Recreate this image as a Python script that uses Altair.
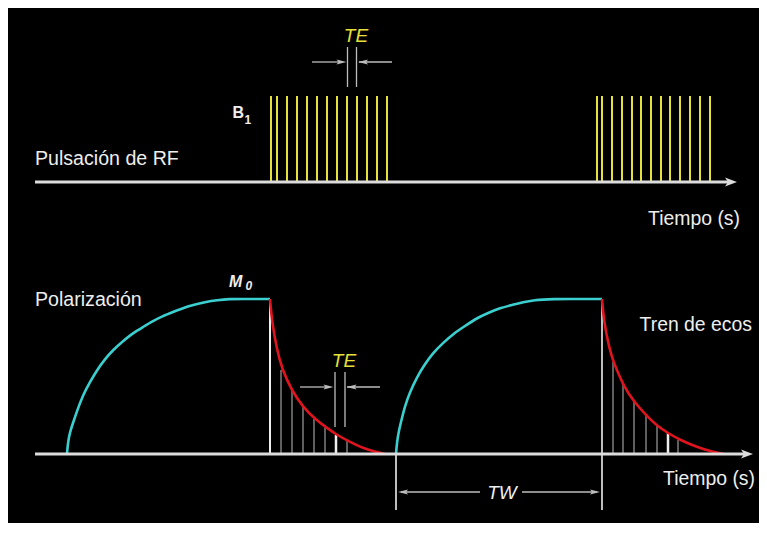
import altair as alt
import pandas as pd

# ---------------- data (time along x, level along y) ----------------
burst1_t = [271, 277, 287, 297, 307, 317, 327, 337, 347, 357, 367, 377, 387]
burst2_t = [597, 602, 612, 622, 632, 641, 651, 661, 670, 680, 690, 700, 710]
pulse_top = 96
rf_axis_level = 182
pol_axis_level = 454

rise1_t = [67, 68, 70, 73, 77, 83, 90, 97, 105, 113, 123, 133, 143, 153, 163, 173, 183,
           193, 205, 217, 230, 240, 270]
rise1_y = [454, 442, 432, 423, 411, 395, 382, 370, 359, 350, 341, 333, 327, 321, 316, 312,
           308, 305, 302, 300, 299, 299, 299]
rise2_t = [396, 397, 399, 402, 405, 410, 417, 425, 433, 443, 453, 465, 477, 488, 500, 512,
           523, 535, 547, 602]
rise2_y = [454, 442, 430, 418, 406, 392, 377, 364, 353, 343, 334, 326, 318, 313, 308, 305,
           302, 300, 299, 299]
decay1_t = [270, 272, 277, 282, 292, 303, 315, 327, 337, 350, 367, 385]
decay1_y = [299, 322, 350, 369, 391, 407, 419, 428, 435, 442, 450, 454]
decay2_t = [602, 604, 609, 613, 623, 634, 646, 657, 668, 680, 697, 713, 724]
decay2_y = [299, 322, 347, 361, 385, 402, 415, 426, 433, 440, 447, 452, 454]
echo1_t = [281, 292, 303, 314, 325, 347]
echo1_y = [370, 391, 407, 419, 428, 441]
echo2_t = [613, 623, 634, 646, 657, 678]
echo2_y = [362, 385, 402, 415, 426, 440]
echo_bold_t = [336, 668]
echo_bold_y = [435, 433]

W, H = 751, 515
xs = alt.Scale(domain=[8, 759], nice=False, zero=False)
ys = alt.Scale(domain=[8, 523], nice=False, zero=False, reverse=True)


def X(f):
    return alt.X(f, type="quantitative", scale=xs, axis=None)


def Y(f):
    return alt.Y(f, type="quantitative", scale=ys, axis=None)


def vrules(ts, y1, y2, color, width, opacity=1.0):
    if not isinstance(y1, list):
        y1 = [y1] * len(ts)
    if not isinstance(y2, list):
        y2 = [y2] * len(ts)
    df = pd.DataFrame({"t": ts, "a": y1, "b": y2})
    return alt.Chart(df).mark_rule(color=color, strokeWidth=width, opacity=opacity).encode(
        x=X("t"), y=Y("a"), y2=alt.Y2("b"))


def hrules(t1, t2, ys_, color, width):
    df = pd.DataFrame({"a": t1, "b": t2, "y": ys_})
    return alt.Chart(df).mark_rule(color=color, strokeWidth=width).encode(
        x=X("a"), x2=alt.X2("b"), y=Y("y"))


def curve(ts, ys_, color, width):
    df = pd.DataFrame({"t": ts, "y": ys_, "i": list(range(len(ts)))})
    return alt.Chart(df).mark_line(color=color, strokeWidth=width,
                                   interpolate="basis").encode(
        x=X("t"), y=Y("y"), order="i:Q")


def heads(ts, ys_, shape, size, color):
    df = pd.DataFrame({"t": ts, "y": ys_})
    return alt.Chart(df).mark_point(shape=shape, size=size, filled=True, color=color,
                                    opacity=1, strokeWidth=0).encode(x=X("t"), y=Y("y"))


FONT = "Liberation Sans, Arial, sans-serif"


def label(texts, ts, ys_, size, color, align="left", style="normal", weight="normal"):
    df = pd.DataFrame({"txt": texts, "t": ts, "y": ys_})
    return alt.Chart(df).mark_text(align=align, baseline="alphabetic", fontSize=size,
                                   color=color, fontStyle=style, fontWeight=weight,
                                   font=FONT).encode(x=X("t"), y=Y("y"), text="txt:N")


AXIS_C = "#dcdcdc"
YEL = "#e6e03a"
CYAN = "#3ccfcf"
RED = "#e0141e"
WHITE = "#eeeeee"
GREY = "#bdbdbd"

ARROW_R = "M-1,-0.75L1,0L-1,0.75L-0.5,0Z"
SMALL_R = "M-1,-0.5L1,0L-1,0.5L-0.6,0Z"
SMALL_L = "M1,-0.5L-1,0L1,0.5L0.6,0Z"

layers = [
    # RF panel
    vrules(burst1_t + burst2_t, pulse_top, rf_axis_level, YEL, 2),
    hrules([35], [728], [rf_axis_level], AXIS_C, 3),
    heads([731], [rf_axis_level], ARROW_R, 144, AXIS_C),
    # TE marker (top)
    vrules([347.5, 356.5], 47, 87, GREY, 1.3),
    hrules([312, 359], [342, 392], [62, 62], GREY, 1.3),
    heads([341.5], [62], SMALL_R, 100, GREY),
    heads([363], [62], SMALL_L, 100, GREY),
    # polarisation panel
    vrules(echo1_t + echo2_t, echo1_y + echo2_y, pol_axis_level, GREY, 1),
    vrules(echo_bold_t, echo_bold_y, pol_axis_level, WHITE, 2.5),
    vrules([270], 299, pol_axis_level, WHITE, 2),
    vrules([602], 299, 510, WHITE, 1.6),
    vrules([396], pol_axis_level, 510, WHITE, 1.6),
    curve(rise1_t, rise1_y, CYAN, 2.6),
    curve(rise2_t, rise2_y, CYAN, 2.6),
    curve(decay1_t, decay1_y, RED, 2.6),
    curve(decay2_t, decay2_y, RED, 2.6),
    hrules([35], [744], [pol_axis_level], AXIS_C, 3),
    heads([747], [pol_axis_level], ARROW_R, 144, AXIS_C),
    # TE marker (bottom)
    vrules([335, 345], 372, 427, GREY, 1.3),
    hrules([300, 347], [330, 380], [387, 387], GREY, 1.3),
    heads([328.5], [387], SMALL_R, 100, GREY),
    heads([351.5], [387], SMALL_L, 100, GREY),
    # TW marker
    hrules([401, 522], [480, 597], [492, 492], GREY, 1.3),
    heads([403], [492], SMALL_L, 100, GREY),
    heads([595], [492], SMALL_R, 100, GREY),
    # texts
    label(["Pulsación de RF", "Polarización"], [35, 35], [165, 306], 19.6, WHITE),
    label(["Tiempo (s)", "Tiempo (s)", "Tren de ecos"], [740, 755, 752], [225, 485, 331],
          19.4, WHITE, align="right"),
    label(["TE", "TE"], [356, 344], [42, 367], 19, YEL, align="center", style="italic"),
    label(["TW"], [502], [499], 19, WHITE, align="center", style="italic"),
    label(["B"], [232.5], [118], 16, WHITE, weight="bold"),
    label(["1"], [244.5], [124], 12, WHITE, weight="bold"),
    label(["M"], [229], [287], 16, WHITE, style="italic", weight="bold"),
    label(["0"], [245.5], [290], 12, WHITE, style="italic", weight="bold"),
]

chart = alt.layer(*layers).properties(
    width=W, height=H, background="black", padding=0, autosize="none"
).configure_view(stroke=None)

chart.save("out.html", embed_options={"renderer": "svg", "actions": False})
